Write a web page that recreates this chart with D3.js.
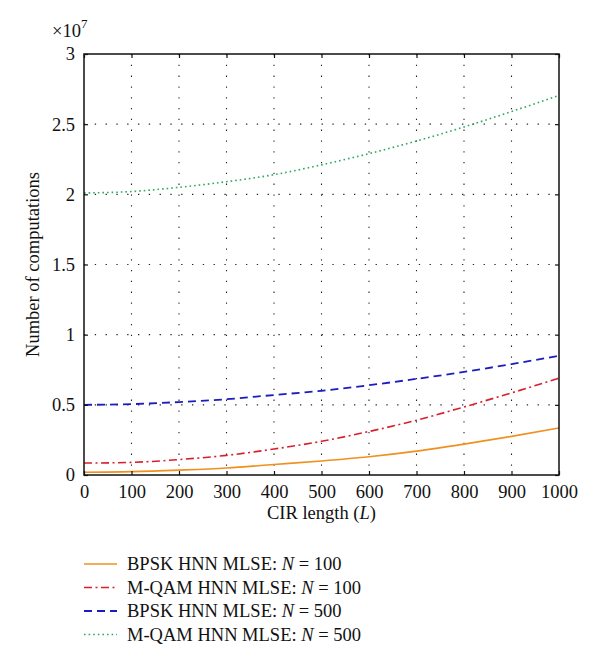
<!DOCTYPE html>
<html>
<head>
<meta charset="utf-8">
<script src="https://cdn.jsdelivr.net/npm/d3@7"></script>
<style>
  html, body { margin: 0; padding: 0; background: #fff; }
  svg { display: block; }
  text { font-family: "Liberation Serif", "DejaVu Serif", serif; fill: #111; }
</style>
</head>
<body>
<svg id="chart" width="600" height="667"></svg>
<script>
// ---- data (values in units of 1e7) ----
const cirLength = [0, 100, 200, 300, 400, 500, 600, 700, 800, 900, 1000];
const bpsk100  = [0.020, 0.024, 0.035, 0.050, 0.075, 0.100, 0.130, 0.170, 0.220, 0.275, 0.335];
const mqam100  = [0.085, 0.090, 0.110, 0.140, 0.185, 0.240, 0.310, 0.390, 0.485, 0.585, 0.690];
const bpsk500  = [0.500, 0.505, 0.520, 0.540, 0.570, 0.600, 0.640, 0.685, 0.735, 0.790, 0.850];
const mqam500  = [2.010, 2.020, 2.050, 2.090, 2.140, 2.210, 2.290, 2.380, 2.480, 2.590, 2.705];
const xTicks = [0, 100, 200, 300, 400, 500, 600, 700, 800, 900, 1000];
const yTicks = [0, 0.5, 1, 1.5, 2, 2.5, 3];
const seriesNames = ["BPSK HNN MLSE: ", "M-QAM HNN MLSE: ", "BPSK HNN MLSE: ", "M-QAM HNN MLSE: "];
const seriesN = ["100", "100", "500", "500"];

const series = [
  { name: seriesNames[0], n: seriesN[0], values: bpsk100, color: "#f0901e", dash: null, width: 1.6 },
  { name: seriesNames[1], n: seriesN[1], values: mqam100, color: "#d8202c", dash: "8,3.5,2,3.5", width: 1.6 },
  { name: seriesNames[2], n: seriesN[2], values: bpsk500, color: "#1c1cc0", dash: "8,5", width: 1.8 },
  { name: seriesNames[3], n: seriesN[3], values: mqam500, color: "#2ea862", dash: "1.6,3", width: 1.6 }
];

const FS = "18.5px";
const svg = d3.select("#chart");
const pL = 84, pR = 559, pT = 54, pB = 475;

const x = d3.scaleLinear().domain([0, 1000]).range([pL, pR]);
const y = d3.scaleLinear().domain([0, 3]).range([pB, pT]);

// grid
const grid = svg.append("g");
grid.selectAll("line.vg").data(xTicks.slice(1, -1)).enter().append("line")
  .attr("x1", d => x(d)).attr("x2", d => x(d)).attr("y1", pT).attr("y2", pB)
  .attr("stroke", "#222").attr("stroke-width", 1.1).attr("stroke-dasharray", "1.3,9.5");
grid.selectAll("line.hg").data(yTicks.slice(1, -1)).enter().append("line")
  .attr("y1", d => y(d)).attr("y2", d => y(d)).attr("x1", pL).attr("x2", pR)
  .attr("stroke", "#222").attr("stroke-width", 1.1).attr("stroke-dasharray", "1.3,9.5");

// lines
const line = d3.line().x((d, i) => x(cirLength[i])).y(d => y(d)).curve(d3.curveMonotoneX);
series.forEach(s => {
  svg.append("path").datum(s.values).attr("d", line)
    .attr("fill", "none").attr("stroke", s.color).attr("stroke-width", s.width)
    .attr("stroke-dasharray", s.dash);
});

// axes with inward ticks
const tickLen = 4;
const axB = d3.axisBottom(x).tickValues(xTicks).tickSizeInner(-tickLen).tickSizeOuter(0).tickPadding(10).tickFormat(d3.format("d"));
const gB = svg.append("g").attr("transform", `translate(0,${pB})`).call(axB);
const axT = d3.axisTop(x).tickValues(xTicks).tickSizeInner(-tickLen).tickSizeOuter(0).tickFormat("");
const gT = svg.append("g").attr("transform", `translate(0,${pT})`).call(axT);
const axL = d3.axisLeft(y).tickValues(yTicks).tickSizeInner(-tickLen).tickSizeOuter(0).tickPadding(9).tickFormat(d => String(d));
const gL = svg.append("g").attr("transform", `translate(${pL},0)`).call(axL);
const axR = d3.axisRight(y).tickValues(yTicks).tickSizeInner(-tickLen).tickSizeOuter(0).tickFormat("");
const gR = svg.append("g").attr("transform", `translate(${pR},0)`).call(axR);
[gB, gT, gL, gR].forEach(g => {
  g.select(".domain").remove();
  g.selectAll(".tick line").attr("stroke", "#111").attr("stroke-width", 1.2);
  g.selectAll(".tick text").style("font-family", "'Liberation Serif', serif").style("font-size", FS).attr("fill", "#111");
});

// frame
svg.append("rect").attr("x", pL).attr("y", pT).attr("width", pR - pL).attr("height", pB - pT)
  .attr("fill", "none").attr("stroke", "#111").attr("stroke-width", 1.5);

// exponent label
const ex = svg.append("text").attr("x", 52).attr("y", 37).style("font-size", FS);
ex.append("tspan").text("×10");
ex.append("tspan").attr("dy", -9).style("font-size", "13px").text("7");

// axis titles
const xt = svg.append("text").attr("x", (pL + pR) / 2).attr("y", 519).attr("text-anchor", "middle").style("font-size", FS);
xt.append("tspan").text("CIR length (");
xt.append("tspan").style("font-style", "italic").text("L");
xt.append("tspan").text(")");

svg.append("text").attr("transform", `translate(39,${(pT + pB) / 2}) rotate(-90)`)
  .attr("text-anchor", "middle").style("font-size", FS).text("Number of computations");

// legend
const legY0 = 564, legDy = 23.5;
series.forEach((s, i) => {
  const yy = legY0 + i * legDy;
  svg.append("line").attr("x1", 84).attr("x2", 117).attr("y1", yy).attr("y2", yy)
    .attr("stroke", s.color).attr("stroke-width", s.width).attr("stroke-dasharray", s.dash);
  const t = svg.append("text").attr("x", 127).attr("y", yy + 6).style("font-size", FS);
  t.append("tspan").text(s.name);
  t.append("tspan").style("font-style", "italic").text("N");
  t.append("tspan").text(" = " + s.n);
});
</script>
</body>
</html>
